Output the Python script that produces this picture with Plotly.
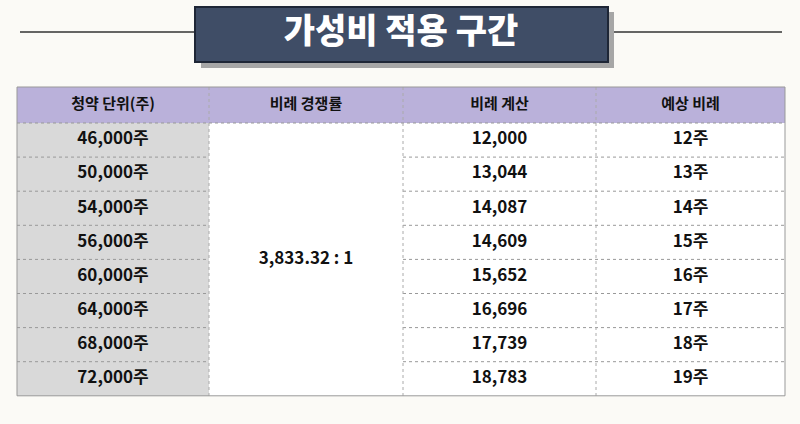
import plotly.graph_objects as go

title = "가성비 적용 구간"
headers = ["청약 단위(주)", "비례 경쟁률", "비례 계산", "예상 비례"]
units = ["46,000주", "50,000주", "54,000주", "56,000주", "60,000주", "64,000주", "68,000주", "72,000주"]
ratio = "3,833.32 : 1"
calc = ["12,000", "13,044", "14,087", "14,609", "15,652", "16,696", "17,739", "18,783"]
expected = ["12주", "13주", "14주", "15주", "16주", "17주", "18주", "19주"]

F = "Noto Sans CJK KR"
colx = [17, 209, 403, 596, 785]
hy0, hy1 = 87, 123
rh = 34.1
n = len(units)
rowy = [hy1 + i * rh for i in range(n + 1)]

fig = go.Figure()
shapes = []
shapes.append(dict(type="line", x0=20, x1=200, y0=32, y1=32, line=dict(color="#333", width=1.5)))
shapes.append(dict(type="line", x0=605, x1=782, y0=32, y1=32, line=dict(color="#333", width=1.5)))
shapes.append(dict(type="rect", x0=201, x1=614, y0=12, y1=68, fillcolor="#a6a6a6", line=dict(width=0)))
shapes.append(dict(type="rect", x0=195, x1=608, y0=7, y1=62, fillcolor="#3f4d66", line=dict(color="#1e2636", width=2)))
shapes.append(dict(type="rect", x0=colx[0], x1=colx[4], y0=hy0, y1=hy1, fillcolor="#bab1da", line=dict(width=0)))
shapes.append(dict(type="rect", x0=colx[0], x1=colx[1], y0=hy1, y1=rowy[-1], fillcolor="#d9d9d9", line=dict(width=0)))
shapes.append(dict(type="rect", x0=colx[1], x1=colx[4], y0=hy1, y1=rowy[-1], fillcolor="#ffffff", line=dict(width=0)))
for i in range(1, n):
    for (a, b) in [(colx[0], colx[1]), (colx[2], colx[4])]:
        shapes.append(dict(type="line", x0=a, x1=b, y0=rowy[i], y1=rowy[i], line=dict(color="#999", width=1, dash="dot")))
shapes.append(dict(type="line", x0=colx[0], x1=colx[4], y0=hy1, y1=hy1, line=dict(color="#999", width=1, dash="dot")))
for x in colx[1:4]:
    shapes.append(dict(type="line", x0=x, x1=x, y0=hy0, y1=rowy[-1], line=dict(color="#aaa", width=1, dash="dot")))
shapes.append(dict(type="rect", x0=colx[0], x1=colx[4], y0=hy0, y1=rowy[-1], line=dict(color="#999", width=1)))
for s in shapes:
    s["layer"] = "below"

cx = [(colx[i] + colx[i + 1]) / 2 for i in range(4)]
cy = [(rowy[i] + rowy[i + 1]) / 2 for i in range(n)]

def txt(xs, ys, t, size, color="#111", w=700):
    fig.add_trace(go.Scatter(x=xs, y=ys, mode="text", text=t, cliponaxis=False,
                             textposition="middle center", hoverinfo="skip",
                             textfont=dict(family=F, size=size, color=color, weight=w)))

txt([401], [34], [title], 34, "white", 900)
txt(cx, [(hy0 + hy1) / 2] * 4, headers, 15)
txt([cx[0]] * n, cy, units, 17)
txt([cx[1]], [(rowy[0] + rowy[-1]) / 2], [ratio], 17)
txt([cx[2]] * n, cy, calc, 17)
txt([cx[3]] * n, cy, expected, 17)

fig.update_layout(width=800, height=424, margin=dict(l=0, r=0, t=0, b=0),
                  paper_bgcolor="#fbfaf6", plot_bgcolor="#fbfaf6", showlegend=False,
                  shapes=shapes,
                  xaxis=dict(range=[0, 800], visible=False, fixedrange=True),
                  yaxis=dict(range=[424, 0], visible=False, fixedrange=True))
fig.write_html("out.html", config={"displayModeBar": False},
               post_script="document.body.style.margin='0';")
